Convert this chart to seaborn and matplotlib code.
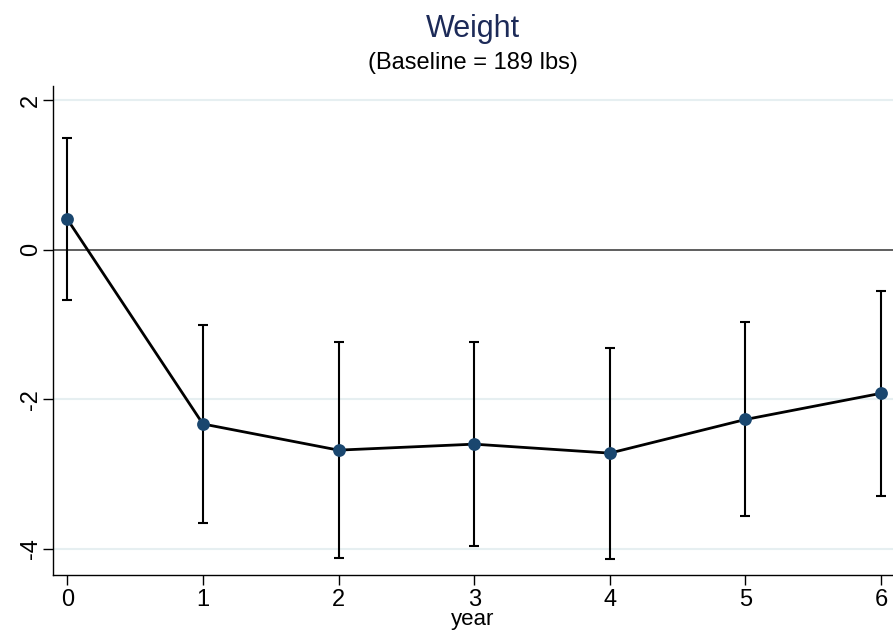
import matplotlib
matplotlib.use("Agg")
import matplotlib.pyplot as plt
import seaborn as sns
import pandas as pd
import numpy as np

# Change in weight (lbs) relative to baseline, with 95% confidence limits
years = [0, 1, 2, 3, 4, 5, 6]
estimate = [0.41, -2.33, -2.68, -2.60, -2.72, -2.27, -1.92]
ci_low = [-0.67, -3.65, -4.12, -3.96, -4.13, -3.56, -3.30]
ci_high = [1.49, -1.01, -1.24, -1.24, -1.31, -0.97, -0.55]
y_ticks = [2, 0, -2, -4]
x_ticks = [0, 1, 2, 3, 4, 5, 6]

df = pd.DataFrame({"year": years, "est": estimate, "lo": ci_low, "hi": ci_high})

sns.set_style("white")
plt.rcParams["font.family"] = ["Liberation Sans", "DejaVu Sans"]
plt.rcParams["axes.unicode_minus"] = False
plt.rcParams["text.color"] = "black"
plt.rcParams["xtick.labelcolor"] = "black"
plt.rcParams["ytick.labelcolor"] = "black"
plt.rcParams["axes.labelcolor"] = "black"

fig = plt.figure(figsize=(8.93, 6.39), dpi=100)
ax = fig.add_axes([53 / 893, 1 - 575 / 639, 1 - 53 / 893, (575 - 86) / 639])

# light grid lines and the reference line at zero
for yv in y_ticks:
    if yv != 0:
        ax.axhline(yv, color="#e6eff1", lw=1.5, zorder=0)
ax.axhline(0, color="#333333", lw=1.1, zorder=1)

# confidence intervals
ax.errorbar(df["year"], df["est"],
            yerr=[df["est"] - df["lo"], df["hi"] - df["est"]],
            fmt="none", ecolor="black", elinewidth=1.5, capsize=3.8,
            capthick=1.5, zorder=2)

# connecting line and point estimates
sns.lineplot(data=df, x="year", y="est", color="black", lw=2.0, ax=ax,
             zorder=3, legend=False)
sns.scatterplot(data=df, x="year", y="est", color="#1a476f", s=85,
                edgecolor="#1a476f", linewidth=0, ax=ax, zorder=4,
                legend=False, clip_on=False)

ax.set_xlim(-0.105, 6.088)
ax.set_ylim(-4.35, 2.19)
ax.set_xticks(x_ticks)
ax.set_yticks(y_ticks)
ax.set_xticklabels([str(v) for v in x_ticks], fontsize=17, color="black")
ax.set_yticklabels([str(v) for v in y_ticks], fontsize=17, rotation=90,
                   va="center", color="black")
ax.tick_params(axis="x", direction="out", length=7, width=1.0,
               color="black", pad=3, bottom=True)
ax.tick_params(axis="y", direction="out", length=7, width=1.0,
               color="black", pad=1, left=True)
ax.set_xlabel("year", fontsize=16, labelpad=-1, color="black")
ax.set_ylabel("")

for side in ["top", "right"]:
    ax.spines[side].set_visible(False)
for side in ["left", "bottom"]:
    ax.spines[side].set_color("black")
    ax.spines[side].set_linewidth(1.0)

fig.text(473 / 893, 1 - 29 / 639, "Weight", ha="center", va="center",
         fontsize=22, color="#1c2a58")
fig.text(473 / 893, 1 - 63 / 639, "(Baseline = 189 lbs)", ha="center",
         va="center", fontsize=17, color="black")

fig.savefig("out.png", dpi=100, facecolor="white")
